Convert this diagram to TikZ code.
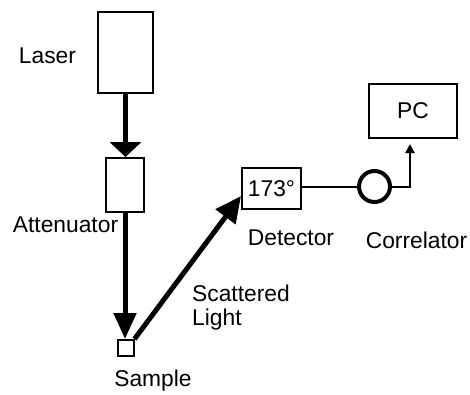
\documentclass[tikz,border=0pt]{standalone}
\usepackage{fontspec}
\setmainfont{Liberation Sans}
\usetikzlibrary{arrows.meta}
\tikzset{box/.style={
		draw,
		line width=2pt,
		inner sep=0pt},
	txt/.style={
		font=\fontsize{22.8}{24}\selectfont,
		inner sep=0pt},
	beam/.style={line width=5pt}
	}

\begin{document}
\begin{tikzpicture}[x=1pt,y=-1pt]
			\useasboundingbox (0,0) rectangle (470,394);
			% boxes
			\node [box, minimum width=55pt, minimum height=81pt] (laser) at (125.5,52.5) {};
			\node [box, minimum width=38pt, minimum height=54pt] (att) at (125,185) {};
			\node [box, minimum width=16pt, minimum height=16pt] (sample) at (125.5,348) {};
			\node [box, txt, minimum width=59pt, minimum height=41pt] (det) at (271.5,188.5) {173°};
			\node [box, txt, minimum width=88pt, minimum height=54pt] (pc) at (413,111) {PC};
			\node [draw, circle, line width=4pt, minimum size=31pt, inner sep=0pt] (corr) at (374.5,186.5) {};
			% labels
			\node [txt, anchor=base] (laserlbl) at (47.5,63) {Laser};
			\node [txt, anchor=base] (attlbl) at (65.5,232) {Attenuator};
			\node [txt, anchor=base] (samplelbl) at (153,386) {Sample};
			\node [txt, anchor=west, align=left] (scatlbl) at (192,307.5) {Scattered\\Light};
			\node [txt, anchor=base] (detlbl) at (291,245) {Detector};
			\node [txt, anchor=base] (corrlbl) at (416.5,248) {Correlator};
			% beams
			\draw [beam, -{Triangle[width=31pt,length=15pt]}] (laser.south) -- (laser.south |- att.north);
			\draw [beam, -{Triangle[width=22pt,length=26pt]}] (att.south) -- (att.south |- sample.north);
			\draw [beam, -{Triangle[width=24pt,length=26pt]}] (sample.north east) -- ([yshift=-7.5pt]det.west);
			\draw [line width=2pt] (det.east |- corr.west) -- (corr.west);
			\draw [line width=2pt, -{Triangle[width=9pt,length=9pt]}] (corr.east) -| ([xshift=-3pt,yshift=-5pt]pc.south);
		\end{tikzpicture}
\end{document}
